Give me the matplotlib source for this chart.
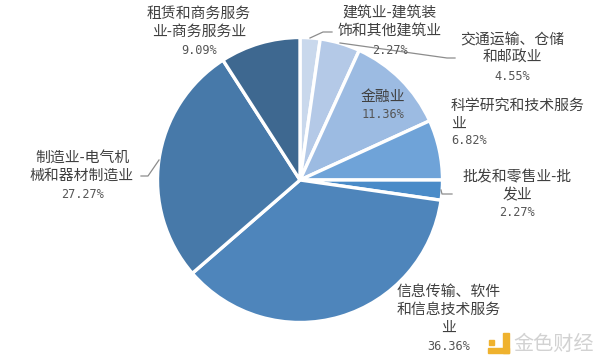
import matplotlib
matplotlib.use("Agg")
import matplotlib.pyplot as plt
import matplotlib.patches as mpatches

plt.rcParams["font.family"] = ["Noto Sans CJK SC", "DejaVu Sans"]

# ---------------------------------------------------------------------------
# Data (clockwise from 12 o'clock)
# ---------------------------------------------------------------------------
categories = [
    "建筑业-建筑装\n饰和其他建筑业",
    "交通运输、仓储\n和邮政业",
    "金融业",
    "科学研究和技术服务\n业",
    "批发和零售业-批\n发业",
    "信息传输、软件\n和信息技术服务\n业",
    "制造业-电气机\n械和器材制造业",
    "租赁和商务服务\n业-商务服务业",
]
shares = [2.27, 4.55, 11.36, 6.82, 2.27, 36.36, 27.27, 9.09]
pct_labels = ["2.27%", "4.55%", "11.36%", "6.82%", "2.27%", "36.36%", "27.27%", "9.09%"]
colors = ["#c9d8ec", "#b4c9e7", "#9cbbe2", "#6fa3d8", "#4a8bc8",
          "#4e85bb", "#4779a9", "#3e6890"]

# ---------------------------------------------------------------------------
# Layout, all in image pixels (y measured from the top)
# ---------------------------------------------------------------------------
W, H = 600, 360
CX, CY, R = 300, 180, 142.5
TXT = "#404040"
PCT = "#555555"
LINE_STEP = 18

# x, y of first name line, y of percent line, alignment
label_pos = [
    (390, 13, 50, "center"),
    (512, 40, 76, "center"),
    (383, 97, 114, "center"),
    (451, 106, 141, "left"),
    (517, 177, 212, "center"),
    (449, 292, 346, "center"),
    (82, 158, 194, "center"),
    (199, 14, 51, "center"),
]
leaders = [
    [(310, 38), (323, 32), (332, 32)],
    [(340, 43), (447, 58), (455, 58)],
    [(441, 190), (442, 194), (452, 194)],
    [(159, 160), (148, 176), (141, 176)],
]

fig = plt.figure(figsize=(6, 3.6), dpi=100)
ax = fig.add_axes([0, 0, 1, 1])

ax.pie(shares, colors=colors, startangle=90, counterclock=False,
       center=(CX, H - CY), radius=R,
       wedgeprops=dict(edgecolor="white", linewidth=2.4))

ax.set_xlim(0, W)
ax.set_ylim(0, H)
ax.set_aspect("equal")
ax.axis("off")

# leader lines
for pts in leaders:
    ax.plot([p[0] for p in pts], [H - p[1] for p in pts],
            color="#8c8c8c", lw=0.9, zorder=4)

# labels
for name, pct, (x, y0, y_pct, ha) in zip(categories, pct_labels, label_pos):
    for i, line in enumerate(name.split("\n")):
        ax.text(x, H - (y0 + i * LINE_STEP), line, fontsize=10.7, color=TXT,
                ha=ha, va="center", zorder=5)
    ax.text(x, H - y_pct, pct, fontsize=8.6, color=PCT, ha=ha, va="center",
            family="DejaVu Sans Mono", zorder=5)

# watermark in the lower right corner
LOGO = "#efb22e"
ax.add_patch(mpatches.Rectangle((488, H - 353), 21, 5, color=LOGO, zorder=5))
ax.add_patch(mpatches.Rectangle((503, H - 353), 6, 20, color=LOGO, zorder=5))
ax.add_patch(mpatches.Rectangle((489, H - 345), 5, 5, color=LOGO, zorder=5))
ax.text(554, H - 344, "金色财经", fontsize=14.5, color="#d2d2d2",
        ha="center", va="center", zorder=5)

fig.savefig("out.png", dpi=100, facecolor="white")
